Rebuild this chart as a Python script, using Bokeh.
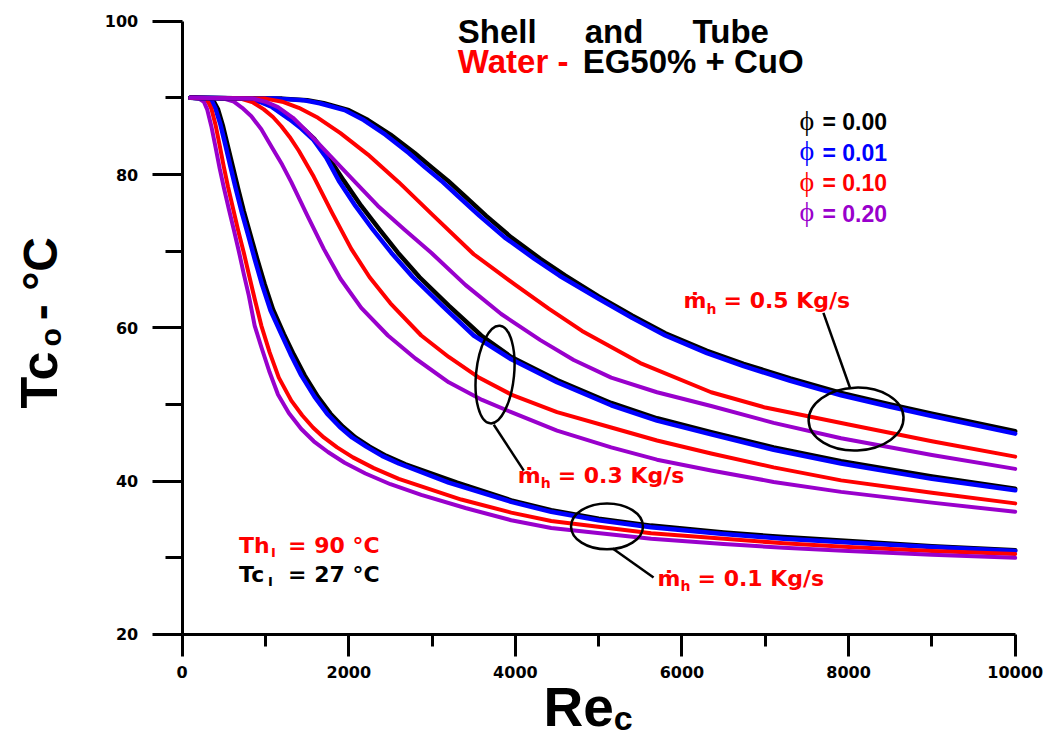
from math import pi
from bokeh.plotting import figure
from bokeh.models import Label, FixedTicker, LinearAxis
from bokeh.embed import file_html
from bokeh.resources import INLINE

# ---------------- data ----------------
# m_h = 0.1 kg/s
re_01_000 = [100, 320, 380, 430, 490, 550, 610, 670, 740, 820, 900, 990, 1090, 1220, 1340, 1470, 1630, 1780, 1930, 2080, 2250, 2450, 2680, 3300, 3950, 4430, 5000, 5630, 6500, 7220, 8000, 9000, 10000]
tc_01_000 = [90, 89.9, 89.5, 88.5, 86.3, 83.6, 80.9, 78.2, 75.2, 72.1, 69.0, 65.7, 62.4, 59.2, 56.5, 53.8, 51.0, 48.8, 47.1, 45.7, 44.5, 43.3, 42.2, 39.8, 37.5, 36.2, 35.1, 34.2, 33.3, 32.7, 32.2, 31.5, 31.0]
re_01_001 = [100, 300, 360, 400, 460, 520, 580, 640, 710, 790, 870, 960, 1060, 1190, 1300, 1430, 1590, 1740, 1890, 2040, 2210, 2400, 2600, 3200, 3950, 4430, 5000, 5630, 6500, 7220, 8000, 9000, 10000]
tc_01_001 = [90, 89.9, 89.5, 88.6, 86.5, 83.8, 81.0, 78.3, 75.3, 72.2, 69.0, 65.6, 62.3, 59.2, 56.6, 53.8, 51.0, 48.8, 47.1, 45.7, 44.5, 43.3, 42.3, 39.8, 37.3, 36.0, 34.9, 34.0, 33.1, 32.5, 32.0, 31.4, 30.9]
re_01_010 = [100, 250, 310, 350, 400, 450, 500, 550, 610, 670, 740, 800, 870, 950, 1050, 1160, 1310, 1440, 1570, 1700, 1860, 2050, 2300, 2600, 3350, 3950, 4430, 5630, 7220, 8000, 9000, 10000]
tc_01_010 = [90, 89.9, 89.5, 88.6, 86.5, 83.8, 81.0, 78.4, 75.6, 72.8, 69.8, 67.0, 63.8, 60.3, 56.8, 53.5, 50.5, 48.6, 47.0, 45.7, 44.4, 43.1, 41.7, 40.3, 37.6, 35.9, 34.8, 33.2, 31.9, 31.4, 30.9, 30.5]
re_01_020 = [100, 200, 260, 300, 350, 400, 450, 500, 560, 620, 680, 740, 800, 870, 950, 1050, 1150, 1280, 1430, 1580, 1750, 1950, 2200, 2500, 2870, 3400, 3950, 4430, 5630, 6500, 7220, 8000, 9000, 10000]
tc_01_020 = [90, 89.9, 89.5, 88.5, 86.3, 83.6, 80.8, 78.3, 75.5, 72.8, 70.0, 67.0, 64.2, 60.3, 57.5, 54.2, 51.3, 48.9, 46.8, 45.2, 43.8, 42.4, 41.0, 39.6, 38.2, 36.5, 34.9, 33.9, 32.5, 31.8, 31.3, 30.9, 30.4, 30.0]

# m_h = 0.3 kg/s
re_03_000 = [100, 800, 950, 1100, 1310, 1450, 1590, 1760, 1940, 2150, 2370, 2590, 2850, 3200, 3590, 3950, 4500, 5150, 5700, 6350, 7100, 7910, 9000, 10000]
tc_03_000 = [90, 89.9, 89.5, 88.8, 87.2, 86.0, 84.6, 82.2, 79.2, 75.9, 72.8, 69.8, 66.6, 62.9, 59.0, 56.2, 53.2, 50.2, 48.2, 46.4, 44.4, 42.6, 40.6, 39.0]
re_03_001 = [100, 780, 930, 1080, 1290, 1430, 1570, 1730, 1880, 2080, 2290, 2510, 2770, 3120, 3500, 3950, 4500, 5150, 5700, 6350, 7100, 7910, 9000, 10000]
tc_03_001 = [90, 89.9, 89.5, 88.8, 87.2, 86.0, 84.6, 82.2, 79.2, 75.9, 72.8, 69.8, 66.6, 62.9, 59.0, 55.9, 52.9, 49.9, 47.9, 46.1, 44.1, 42.3, 40.3, 38.8]
re_03_010 = [100, 700, 850, 980, 1090, 1190, 1290, 1400, 1580, 1800, 2030, 2250, 2500, 2870, 3200, 3550, 3950, 4500, 5150, 5700, 6350, 7100, 7910, 9000, 10000]
tc_03_010 = [90, 89.9, 89.4, 88.5, 87.5, 86.3, 84.9, 83.1, 79.7, 75.0, 70.3, 66.6, 63.2, 59.0, 56.2, 53.6, 51.3, 49.0, 47.0, 45.3, 43.6, 41.8, 40.1, 38.5, 37.1]
re_03_020 = [100, 500, 620, 720, 830, 950, 1080, 1200, 1310, 1500, 1700, 1900, 2150, 2470, 2800, 3200, 3600, 3950, 4500, 5150, 5700, 6350, 7100, 7910, 9000, 10000]
tc_03_020 = [90, 89.9, 89.5, 88.7, 87.6, 85.9, 83.5, 81.3, 79.0, 74.7, 70.3, 66.4, 62.6, 59.0, 56.0, 52.9, 50.6, 49.0, 46.6, 44.4, 42.8, 41.4, 39.9, 38.6, 37.2, 36.0]

# m_h = 0.5 kg/s
re_05_000 = [100, 1200, 1500, 1700, 2000, 2230, 2500, 2790, 3000, 3190, 3400, 3650, 3950, 4300, 4600, 5000, 5400, 5800, 6300, 6740, 7300, 7910, 8500, 9000, 10000]
tc_05_000 = [90, 89.9, 89.7, 89.3, 88.4, 87.1, 85.2, 82.8, 80.9, 79.2, 77.1, 74.6, 71.8, 69.0, 66.8, 64.1, 61.6, 59.3, 57.0, 55.3, 53.4, 51.5, 50.0, 48.8, 46.5]
re_05_001 = [100, 1150, 1450, 1650, 1950, 2180, 2440, 2720, 2920, 3110, 3320, 3570, 3870, 4230, 4530, 5000, 5400, 5800, 6300, 6740, 7300, 7910, 8500, 9000, 10000]
tc_05_001 = [90, 89.9, 89.7, 89.3, 88.4, 87.1, 85.2, 82.8, 80.9, 79.2, 77.1, 74.6, 71.8, 69.0, 66.8, 63.8, 61.3, 59.0, 56.7, 55.0, 53.1, 51.2, 49.7, 48.5, 46.2]
re_05_010 = [100, 1000, 1200, 1400, 1630, 1900, 2230, 2600, 3000, 3500, 4000, 4400, 4800, 5500, 6350, 7000, 8000, 9000, 10000]
tc_05_010 = [90, 89.9, 89.5, 88.7, 87.4, 85.4, 82.6, 79.0, 74.8, 69.6, 65.6, 62.5, 59.6, 55.4, 51.6, 49.6, 47.4, 45.2, 43.2]
re_05_020 = [100, 850, 1000, 1150, 1330, 1510, 1780, 2060, 2350, 2670, 2990, 3400, 3830, 4300, 4700, 5150, 5700, 6350, 7100, 7910, 9000, 10000]
tc_05_020 = [90, 89.9, 89.5, 88.8, 87.4, 85.5, 82.4, 79.2, 75.9, 72.8, 69.8, 65.6, 61.8, 58.4, 55.8, 53.5, 51.6, 49.8, 47.6, 45.6, 43.4, 41.6]

phi_labels = ["0.00", "0.01", "0.10", "0.20"]
phi_colors = ["#000000", "#0000FF", "#FF0000", "#9900CC"]
x_ticks = [0, 2000, 4000, 6000, 8000, 10000]
x_minor = [1000, 3000, 5000, 7000, 9000]
y_ticks = [20, 40, 60, 80, 100]
y_minor = [30, 50, 70, 90]

# annotation ellipses around the curve groups (center x, center y, w, h, angle)
ell_x = [8090, 3756, 5100]
ell_y = [48.1, 53.9, 34.1]
ell_w = [1140, 456, 864]
ell_h = [8.2, 12.8, 6.0]
ell_a = [0.04, -0.1, 0.0]
# leader lines from ellipses to the mass-flow labels
lead_x0 = [7698, 3741, 5168]
lead_y0 = [61.95, 47.36, 31.21]
lead_x1 = [8021, 4101, 5659]
lead_y1 = [52.05, 41.37, 27.43]

# ---------------- figure ----------------
# the frame fills the whole canvas; the axes sit at Re=0 and Tc=20
PX_X = 0.0833   # screen px per Re unit
PX_Y = 7.666    # screen px per degC
p = figure(width=1049, height=737, x_range=(-2181, 10412), y_range=(6.56, 102.7),
           output_backend="svg", toolbar_location=None,
           x_axis_location=None, y_axis_location=None,
           min_border=0, min_border_left=0, min_border_right=0,
           min_border_top=0, min_border_bottom=0)
p.background_fill_color = "white"
p.border_fill_color = "white"
p.outline_line_color = None
p.grid.visible = False

xax = LinearAxis(fixed_location=20, bounds=(0, 10000),
                 ticker=FixedTicker(ticks=x_ticks, minor_ticks=x_minor))
yax = LinearAxis(fixed_location=0, bounds=(20, 100),
                 ticker=FixedTicker(ticks=y_ticks, minor_ticks=y_minor))
for ax in (xax, yax):
    ax.axis_line_width = 3
    ax.axis_line_color = "black"
    ax.major_tick_line_width = 3
    ax.minor_tick_line_width = 3
    ax.major_tick_in = 0
    ax.minor_tick_in = 0
    ax.major_label_text_font = "DejaVu Sans"
    ax.major_label_text_font_style = "bold"
    ax.major_label_text_font_size = "16px"
    ax.major_label_text_color = "black"
xax.major_tick_out = 22
xax.minor_tick_out = 12
xax.major_label_standoff = 10
yax.major_tick_out = 30
yax.minor_tick_out = 17
yax.major_label_standoff = 14
p.add_layout(xax, "below")
p.add_layout(yax, "left")

groups = [
    (re_01_000, tc_01_000, re_01_001, tc_01_001, re_01_010, tc_01_010, re_01_020, tc_01_020),
    (re_03_000, tc_03_000, re_03_001, tc_03_001, re_03_010, tc_03_010, re_03_020, tc_03_020),
    (re_05_000, tc_05_000, re_05_001, tc_05_001, re_05_010, tc_05_010, re_05_020, tc_05_020),
]
widths = [4.5, 4.5, 4, 4]
for g in groups:
    for k in range(4):
        p.line(g[2 * k], g[2 * k + 1], line_color=phi_colors[k], line_width=widths[k],
               line_join="round", line_cap="round")

p.ellipse(x=ell_x, y=ell_y, width=ell_w, height=ell_h, angle=ell_a,
          fill_color=None, line_color="black", line_width=2.5)
p.segment(x0=lead_x0, y0=lead_y0, x1=lead_x1, y1=lead_y1, line_color="black", line_width=2.5)


def lab(x, y, text, size, color="black", font="DejaVu Sans", style="bold", angle=0.0):
    # x, y is the left end of the text baseline; Bokeh places "alphabetic"
    # text about 0.38 em lower, so compensate
    shift = 0.38 * size
    if angle == 0.0:
        y = y + shift / PX_Y
    else:
        x = x - shift / PX_X
    p.add_layout(Label(x=x, y=y, text=text, text_font=font, text_font_size=f"{size}px",
                       text_font_style=style, text_color=color, angle=angle,
                       text_align="left", text_baseline="alphabetic"))


# title
lab(3309, 97.0, "Shell", 33, font="Liberation Sans")
lab(4832, 97.0, "and", 33, font="Liberation Sans")
lab(6127, 97.0, "Tube", 33, font="Liberation Sans")
lab(3309, 93.1, "Water -", 33, color="#FF0000", font="Liberation Sans")
lab(4808, 93.1, "EG50% + CuO", 33, font="Liberation Sans")

# phi legend
leg_y = [85.67, 81.69, 77.72, 73.75]
for t, c, yy in zip(phi_labels, phi_colors, leg_y):
    lab(7410, yy, "\u03d5", 28, color=c, font="Liberation Serif", style="normal")
    lab(7686, yy, "= " + t, 23, color=c, font="Liberation Sans")

# mass flow labels
for (xm, ym, xh, yh, xe, txt) in [(6019, 62.48, 6295, 61.82, 6499, "= 0.5 Kg/s"),
                                  (4029, 39.67, 4304, 39.02, 4508, "= 0.3 Kg/s"),
                                  (5707, 26.25, 5983, 25.60, 6187, "= 0.1 Kg/s")]:
    lab(xm, ym, "\u1e41", 22, color="#FF0000")
    lab(xh, yh, "h", 14, color="#FF0000")
    lab(xe, ym, txt, 22, color="#FF0000")

# inlet temperatures
lab(683, 30.55, "Th", 22, color="#FF0000")
lab(1067, 30.03, "I", 13, color="#FF0000")
lab(1271, 30.55, "= 90 \u00b0C", 22, color="#FF0000")
lab(683, 26.78, "Tc", 22)
lab(1031, 26.25, "I", 13)
lab(1271, 26.78, "= 27 \u00b0C", 22)

# axis titles
lab(4337, 7.87, "Re", 55, font="Liberation Sans")
lab(5180, 7.45, "c", 34, font="Liberation Sans")
lab(-1485, 49.48, "Tc", 52, font="Liberation Sans", angle=pi / 2)
lab(-1449, 57.57, "o", 30, font="Liberation Sans", angle=pi / 2)
lab(-1485, 61.0, "- \u00b0C", 48, font="Liberation Sans", angle=pi / 2)

open("out.html", "w").write(file_html(p, INLINE))
